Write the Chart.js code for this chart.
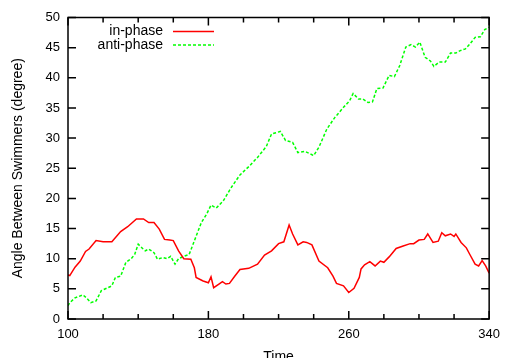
<!DOCTYPE html>
<html>
<head>
<meta charset="utf-8">
<script src="https://cdn.jsdelivr.net/npm/chart.js@4"></script>
<style>
  html, body { margin: 0; padding: 0; background: #fff; }
  #wrap { width: 508px; height: 358px; }
</style>
</head>
<body>
<div id="wrap"><canvas id="chart" width="508" height="358"></canvas></div>
<script>
// values
const inPhaseX = [100, 101, 104, 107, 110, 112, 116, 120, 125, 130, 134, 139, 143, 146, 149, 152, 155, 158, 160, 163, 166, 170, 172, 173, 177, 180, 181.5, 183, 186, 188, 190, 192, 195, 198, 203, 208, 212, 216, 220, 223, 226, 228, 231, 234, 236, 239, 243, 248, 251, 253, 257, 260, 263, 266, 267, 269, 272, 275, 278, 280, 283, 287, 291, 295, 297, 300, 303, 305, 308, 311, 313, 315, 318, 320, 321, 324, 327, 329, 332, 334, 336, 338, 340];
const inPhaseY = [7.3, 7.2, 8.6, 9.6, 11.2, 11.6, 13.0, 12.8, 12.8, 14.5, 15.3, 16.6, 16.6, 16.0, 16.0, 14.9, 13.2, 13.1, 13.0, 11.3, 10.0, 9.9, 8.5, 6.9, 6.3, 6.0, 7.0, 5.2, 5.8, 6.2, 5.8, 5.9, 7.1, 8.2, 8.4, 9.1, 10.6, 11.3, 12.5, 12.8, 15.6, 14.1, 12.3, 12.8, 12.7, 12.3, 9.6, 8.5, 7.1, 5.9, 5.5, 4.4, 5.1, 6.9, 8.3, 9.0, 9.5, 8.8, 9.6, 9.4, 10.3, 11.7, 12.1, 12.5, 12.5, 13.1, 13.2, 14.1, 12.7, 12.9, 14.3, 13.8, 14.1, 13.7, 14.1, 12.7, 11.8, 10.7, 9.1, 8.8, 9.7, 8.8, 7.6];

const antiPhaseX = [100, 101, 104, 108.5, 110.5, 113, 116, 119, 122, 125, 127, 130, 133, 136, 138, 140, 142.5, 144, 146, 149, 151, 154, 156.5, 158.5, 161, 163, 166, 169, 170.5, 173.5, 176, 179, 181.5, 184.5, 188.5, 193, 198, 203.5, 208, 213, 216, 218.5, 221, 224, 228, 231, 235, 240, 243, 247.5, 252, 257, 260.5, 262.5, 265.5, 268, 271, 273.5, 276, 279.5, 283, 286, 289, 292.5, 295.5, 298, 300.5, 303.5, 306.5, 308.5, 311.5, 315, 318, 321, 323.5, 326.5, 329, 332, 335, 337.5, 340];
const antiPhaseY = [2.2, 2.7, 3.5, 4.0, 3.5, 2.7, 3.0, 4.7, 5.1, 5.5, 6.9, 7.1, 9.4, 10.0, 10.7, 12.4, 11.7, 11.3, 11.6, 11.0, 9.9, 10.2, 10.0, 10.4, 9.1, 10.0, 10.4, 10.7, 11.8, 14.1, 16.0, 17.4, 18.9, 18.4, 19.6, 21.8, 23.9, 25.4, 26.8, 28.6, 30.7, 30.9, 31.1, 29.6, 29.3, 27.6, 27.8, 27.1, 28.5, 31.5, 33.4, 35.1, 36.2, 37.4, 36.5, 36.5, 35.9, 36.0, 38.2, 38.3, 40.4, 40.2, 42.0, 45.1, 45.5, 45.1, 45.9, 43.4, 42.8, 41.9, 42.6, 42.6, 44.1, 44.1, 44.5, 44.8, 45.6, 46.7, 46.8, 48.0, 48.4];

const xLabels = [100, 180, 260, 340];
const seriesNames = ['in-phase', 'anti-phase'];

const FONT = "'Liberation Sans', Arial, sans-serif";

const pts = (xs, ys) => xs.map((x, i) => ({ x: x, y: ys[i] }));

// gnuplot style frame: box + inward ticks on all four sides, key on the top left
const framePlugin = {
    id: 'frame',
    afterDatasetsDraw(chart) {
        const ctx = chart.ctx;
        const a = chart.chartArea;
        const xs = chart.scales.x, ys = chart.scales.y;
        ctx.save();
        ctx.strokeStyle = '#000';
        ctx.lineWidth = 1.5;
        ctx.strokeRect(a.left, a.top, a.right - a.left, a.bottom - a.top);
        ctx.beginPath();
        for (let v = 100; v <= 340; v += 20) {
            const px = xs.getPixelForValue(v);
            const len = xLabels.includes(v) ? 8 : 5;
            ctx.moveTo(px, a.bottom); ctx.lineTo(px, a.bottom - len);
            ctx.moveTo(px, a.top); ctx.lineTo(px, a.top + len);
        }
        for (let v = 0; v <= 50; v += 5) {
            const py = ys.getPixelForValue(v);
            ctx.moveTo(a.left, py); ctx.lineTo(a.left + 8, py);
            ctx.moveTo(a.right, py); ctx.lineTo(a.right - 8, py);
        }
        ctx.stroke();

        // key
        ctx.font = '14px ' + FONT;
        ctx.textAlign = 'right';
        ctx.textBaseline = 'middle';
        chart.data.datasets.forEach((ds, i) => {
            const y = 31.5 + i * 13.5;
            ctx.fillStyle = '#000';
            ctx.fillText(ds.label, 163, y);
            ctx.strokeStyle = ds.borderColor;
            ctx.lineWidth = 1.5;
            ctx.setLineDash(ds.borderDash || []);
            ctx.beginPath();
            ctx.moveTo(173, y); ctx.lineTo(214, y);
            ctx.stroke();
            ctx.setLineDash([]);
        });
        ctx.restore();
    }
};

new Chart(document.getElementById('chart'), {
    type: 'line',
    data: {
        datasets: [
            { label: seriesNames[0], data: pts(inPhaseX, inPhaseY), borderColor: '#ff0000',
              borderWidth: 1.5, pointRadius: 0, tension: 0, fill: false },
            { label: seriesNames[1], data: pts(antiPhaseX, antiPhaseY), borderColor: '#00ff00',
              borderWidth: 1.5, borderDash: [3, 2], pointRadius: 0, tension: 0, fill: false }
        ]
    },
    options: {
        responsive: false,
        animation: false,
        layout: { padding: { top: 17.5, right: 13, left: 0, bottom: 0 } },
        plugins: { legend: { display: false }, tooltip: { enabled: false } },
        scales: {
            x: {
                type: 'linear', min: 100, max: 340,
                grid: { display: false, drawTicks: false }, border: { display: false },
                afterFit: (s) => { s.height = 39; },
                ticks: {
                    stepSize: 20, autoSkip: false, maxRotation: 0, padding: 8,
                    color: '#000', font: { family: FONT, size: 13 },
                    callback: (v) => xLabels.includes(v) ? String(v) : ''
                },
                title: { display: true, text: 'Time', color: '#000', font: { family: FONT, size: 14 },
                         padding: { top: 0, bottom: -8 } }
            },
            y: {
                min: 0, max: 50,
                grid: { display: false, drawTicks: false }, border: { display: false },
                afterFit: (s) => { s.width = 68; },
                ticks: { stepSize: 5, padding: 8, color: '#000', font: { family: FONT, size: 13 } },
                title: { display: true, text: 'Angle Between Swimmers (degree)', color: '#000',
                         font: { family: FONT, size: 14 }, padding: { top: 10, bottom: 10 } }
            }
        }
    },
    plugins: [framePlugin]
});
</script>
</body>
</html>
